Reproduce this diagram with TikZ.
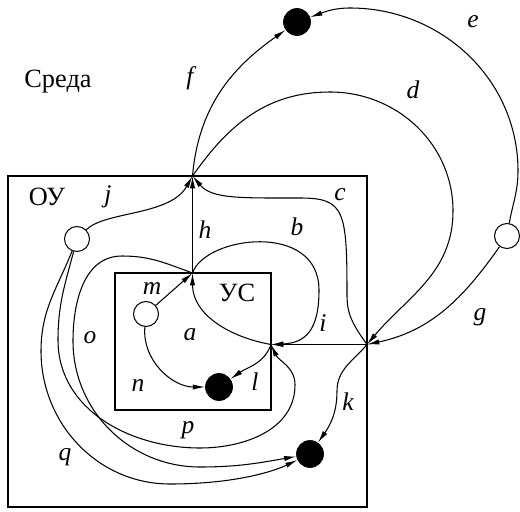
\documentclass[tikz,border=0pt]{standalone}
\usepackage{fontspec}
\setmainfont{Liberation Serif}
\usetikzlibrary{arrows.meta}
\tikzset{
  % --- POINTS ---
  white-pt/.style={
    circle,
    draw,
    fill=white,
    line width=0.6pt,
    inner sep=0pt,
    minimum size=5mm
  },
  black-pt/.style={
    circle,
    draw,
    fill=black,
    inner sep=0pt,
    minimum size=5.4mm
  },
  % --- BOXES ---
  box/.style={
    draw,
    line width=1pt
  },
  box-title/.style={
    font=\fontsize{15}{17}\selectfont
  },
  % --- ARROWS ---
  arrw/.style={
    draw,
    line width=0.6pt,
    -{Latex[length=7pt,width=3pt]}
  },
  % --- LABELS ---
  lbl/.style={
    font=\fontsize{14.5}{17}\selectfont\itshape
  },
}
\begin{document}
\begin{tikzpicture}[x=0.02cm, y=0.02cm]
  \useasboundingbox (0,0) rectangle (520,511);

  % --- boxes
  \draw[box] (8,4) rectangle (367,335);
  \draw[box] (115,101) rectangle (271,238);
  \node[box-title] (env) at (58,429) {Среда};
  \node[box-title] (ou)  at (47,314) {ОУ};
  \node[box-title] (us)  at (237,218) {УС};

  % --- junctions
  \coordinate (us-top)   at (192.5,238);
  \coordinate (ou-top)   at (192.5,335);
  \coordinate (us-right) at (271,166.5);
  \coordinate (ou-right) at (367,166.5);

  % --- points
  \node[white-pt] (ou-in)   at (77,272) {};
  \node[white-pt] (us-in)   at (146,197) {};
  \node[black-pt] (us-out)  at (219,124) {};
  \node[black-pt] (ou-out)  at (310,57) {};
  \node[black-pt] (env-out) at (297,489) {};
  \node[white-pt] (env-in)  at (507,275) {};

  % --- connectors inside УС
  \draw[arrw] (us-in) -- (us-top);
  \draw[arrw] (us-in) to[out=-95,in=180] (us-out);
  \draw[arrw] (us-right) to[out=170,in=-90] (us-top);
  \draw[arrw] (us-right) to[out=-110,in=35] (us-out);
  % --- connectors inside ОУ
  \draw[arrw] (us-top) -- (ou-top);
  \draw[arrw] (ou-right) -- (us-right);
  \draw[arrw] (us-top) .. controls (205,275) and (319,290) .. (319,221)
    .. controls (319,180) and (305,168) .. (us-right);
  \draw[arrw] (ou-right) to[out=125,in=-90] (347,215)
    .. controls (347,300) and (345,313) .. (300,313)
    .. controls (240,313) and (212,312) .. (ou-top);
  \draw[arrw] (ou-in) .. controls (105,300) and (170,295) .. (ou-top);
  \draw[arrw] (ou-right) to[out=-130,in=90] (337,120) to[out=-90,in=55] (ou-out);
  \draw[arrw] (us-top) to[out=160,in=0] (122,255) to[out=180,in=90] (73,170)
    to[out=-90,in=180] (200,44) to[out=0,in=190] (ou-out);
  \draw[arrw] (ou-in) to[out=-105,in=90] (58,171) to[out=-90,in=180] (200,63)
    to[out=0,in=-90] (295,126) to[out=90,in=-65] (us-right);
  \draw[arrw] (ou-in) to[out=-112,in=90] (41,160) to[out=-90,in=180] (170,27)
    .. controls (230,27) and (270,38) .. (ou-out);
  % --- connectors in the environment
  \draw[arrw] (ou-top) to[out=85,in=215] (env-out);
  \draw[arrw] (ou-top) to[out=55,in=180] (330,419) to[out=0,in=90] (453,300)
    to[out=-90,in=50] (ou-right);
  \draw[arrw] (env-in) to[out=80,in=-90] (518,340) to[out=90,in=0] (350,503)
    to[out=180,in=20] (env-out);
  \draw[arrw] (env-in) to[out=-125,in=12] (ou-right);

  % --- labels
  \node[lbl] (lbl-a) at (190,176) {a};
  \node[lbl] (lbl-b) at (297,284) {b};
  \node[lbl] (lbl-c) at (340,316) {c};
  \node[lbl] (lbl-d) at (413,421) {d};
  \node[lbl] (lbl-e) at (473,489) {e};
  \node[lbl] (lbl-f) at (190,433) {f};
  \node[lbl] (lbl-g) at (480,194) {g};
  \node[lbl] (lbl-h) at (205,281) {h};
  \node[lbl] (lbl-i) at (323,188) {i};
  \node[lbl] (lbl-j) at (108,314) {j};
  \node[lbl] (lbl-k) at (348,109) {k};
  \node[lbl] (lbl-l) at (255,129) {l};
  \node[lbl] (lbl-m) at (152,223) {m};
  \node[lbl] (lbl-n) at (138,126) {n};
  \node[lbl] (lbl-o) at (90,173) {o};
  \node[lbl] (lbl-p) at (188,81) {p};
  \node[lbl] (lbl-q) at (65,54) {q};

\end{tikzpicture}
\end{document}
